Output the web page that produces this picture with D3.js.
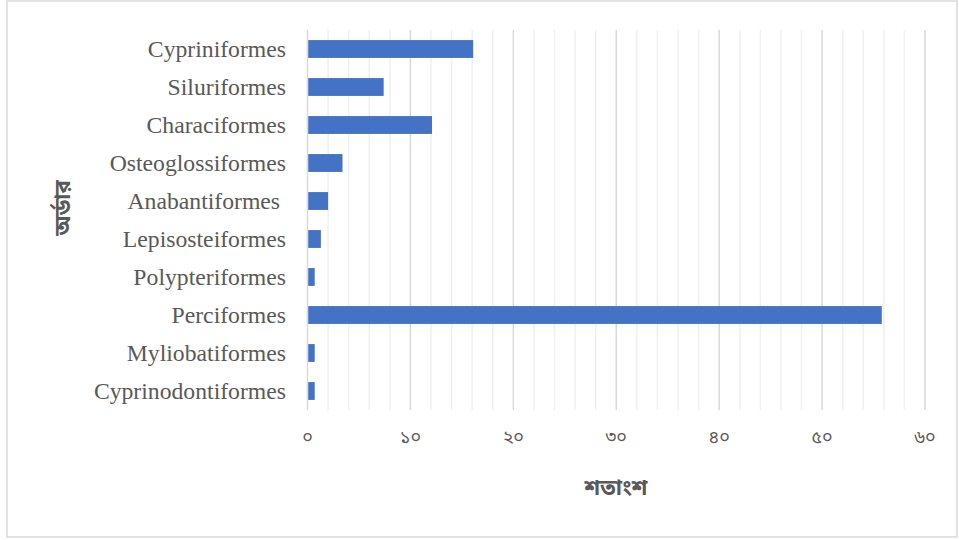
<!DOCTYPE html>
<html>
<head>
<meta charset="utf-8">
<script src="https://cdn.jsdelivr.net/npm/d3@7"></script>
<style>
  body { margin: 0; background: #fff; }
  svg text { fill: #595959; }
</style>
</head>
<body>
<svg id="chart" width="959" height="540"></svg>
<script>
// Order names (top to bottom) and their share in percent
const orders = ["Cypriniformes", "Siluriformes", "Characiformes", "Osteoglossiformes", "Anabantiformes ",
    "Lepisosteiformes", "Polypteriformes", "Perciformes", "Myliobatiformes", "Cyprinodontiformes"];
const percents = [16.1, 7.4, 12.1, 3.4, 2.0, 1.3, 0.7, 55.8, 0.7, 0.7];
const majorTicks = [0, 10, 20, 30, 40, 50, 60];
const tickLabels = ["০", "১০", "২০", "৩০", "৪০", "৫০", "৬০"];
const xTitle = "শতাংশ";
const yTitle = "অর্ডার";

const margin = { top: 30, left: 307.5, right: 34, bottom: 130 };
const width = 959, height = 540;
const svg = d3.select("#chart");

// chart outline
svg.append("rect")
    .attr("x", 7).attr("y", 1)
    .attr("width", 950).attr("height", 536)
    .attr("fill", "none")
    .attr("stroke", "#d9d9d9")
    .attr("stroke-width", 1.5);

const x = d3.scaleLinear().domain([0, 60]).range([margin.left, width - margin.right]);
const y = d3.scaleBand().domain(orders).range([margin.top, height - margin.bottom]).paddingInner(0.53).paddingOuter(0.265);

// minor gridlines every 2
const minor = d3.range(0, 61, 2).filter(v => v % 10 !== 0);
svg.append("g").selectAll("line")
    .data(minor)
    .join("line")
    .attr("x1", d => x(d)).attr("x2", d => x(d))
    .attr("y1", margin.top).attr("y2", height - margin.bottom)
    .attr("stroke", "#f0f0f0")
    .attr("stroke-width", 1.5);

// major gridlines
svg.append("g").selectAll("line")
    .data(majorTicks)
    .join("line")
    .attr("x1", d => x(d)).attr("x2", d => x(d))
    .attr("y1", margin.top).attr("y2", height - margin.bottom)
    .attr("stroke", "#d9d9d9")
    .attr("stroke-width", 1.5);

// bars
svg.append("g").selectAll("rect")
    .data(orders)
    .join("rect")
    .attr("x", x(0) + 0.75)
    .attr("y", d => y(d))
    .attr("width", (d, i) => x(percents[i]) - x(0) - 0.75)
    .attr("height", y.bandwidth())
    .attr("fill", "#4472C4");

// category labels
svg.append("g").selectAll("text")
    .data(orders)
    .join("text")
    .attr("x", 286)
    .attr("y", d => y(d) + y.bandwidth() / 2)
    .attr("dy", "0.33em")
    .attr("text-anchor", "end")
    .style("white-space", "pre")
    .style("font-family", "'Liberation Serif', 'Times New Roman', serif")
    .style("font-size", "23.7px")
    .text(d => d);

// x tick labels
svg.append("g").selectAll("text")
    .data(majorTicks)
    .join("text")
    .attr("x", d => x(d))
    .attr("y", 443)
    .attr("text-anchor", "middle")
    .style("font-family", "'Noto Sans Bengali', 'Lohit Bengali', 'Noto Sans', sans-serif")
    .style("font-size", "18px")
    .text((d, i) => tickLabels[i]);

// axis titles
svg.append("text")
    .attr("x", 616)
    .attr("y", 495)
    .attr("text-anchor", "middle")
    .style("font-family", "'Noto Sans Bengali', 'Lohit Bengali', sans-serif")
    .style("font-size", "22px")
    .style("font-weight", "bold")
    .text(xTitle);

svg.append("text")
    .attr("transform", "translate(70,208) rotate(-90)")
    .attr("text-anchor", "middle")
    .style("font-family", "'Noto Sans Bengali', 'Lohit Bengali', sans-serif")
    .style("font-size", "22px")
    .style("font-weight", "bold")
    .text(yTitle);
</script>
</body>
</html>
